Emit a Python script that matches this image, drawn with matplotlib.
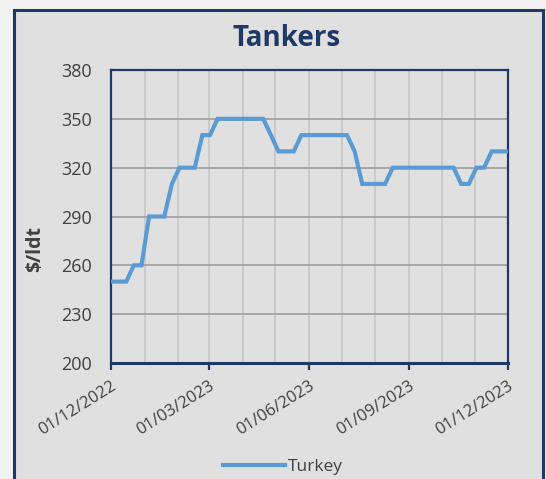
import matplotlib
matplotlib.use("Agg")
import matplotlib.pyplot as plt
import matplotlib.dates as mdates
from matplotlib.patches import Rectangle
import pandas as pd

# ---- data ----
start_date = "2022-12-01"
n_weeks = 53
dates = pd.date_range(start_date, periods=n_weeks, freq="7D")
turkey = [250, 250, 250, 260, 260, 290, 290, 290, 310, 320, 320, 320,
          340, 340, 350, 350, 350, 350, 350, 350, 350, 340, 330, 330,
          330, 340, 340, 340, 340, 340, 340, 340, 330, 310, 310, 310,
          310, 320, 320, 320, 320, 320, 320, 320, 320, 320, 310, 310,
          320, 320, 330, 330, 330]
tick_dates = ["2022-12-01", "2023-03-01", "2023-06-01", "2023-09-01", "2023-12-01"]
y_ticks = [200, 230, 260, 290, 320, 350, 380]
title = "Tankers"
ylabel = "$/ldt"
series_name = "Turkey"

# ---- style ----
W, H = 546, 479
navy = "#1f3864"
txt = "#404040"
line_c = "#5b9bd5"
plt.rcParams['font.family'] = ['Open Sans', 'DejaVu Sans']

fig = plt.figure(figsize=(W / 100, H / 100), dpi=100)
fig.patch.set_facecolor("#f2f2f2")
box = Rectangle((14 / W, -0.05), (543 - 14) / W, 1 - 10 / H + 0.05,
                transform=fig.transFigure, facecolor="#e0e0e0",
                edgecolor=navy, lw=2.2, zorder=-5)
fig.patches.append(box)

ax = fig.add_axes([111 / W, 1 - 363 / H, (508 - 111) / W, (363 - 70) / H])
ax.set_zorder(5)
ax.set_facecolor("#e0e0e0")
ax.plot(dates, turkey, color=line_c, lw=3.0, solid_joinstyle="miter",
        label=series_name, zorder=3)

ax.set_ylim(200, 380)
ax.set_yticks(y_ticks)
ax.set_xlim(pd.Timestamp(tick_dates[0]), pd.Timestamp(tick_dates[-1]))
ax.set_xticks([pd.Timestamp(d) for d in tick_dates])
ax.xaxis.set_major_formatter(mdates.DateFormatter("%d/%m/%Y"))
ax.xaxis.set_minor_locator(mdates.MonthLocator(bymonthday=1))

ax.grid(axis="y", which="major", color="#a6a6a6", lw=1.4, zorder=1)
ax.grid(axis="x", which="minor", color="#cacaca", lw=1.4, zorder=1)
ax.grid(axis="x", which="major", color="#cacaca", lw=1.4, zorder=1)
ax.set_axisbelow(True)

for s in ax.spines.values():
    s.set_color(navy)
    s.set_linewidth(1.6)
ax.spines["bottom"].set_linewidth(2.2)

ax.tick_params(axis="y", length=0, pad=14, labelsize=13, labelcolor=txt)
ax.tick_params(axis="x", which="major", length=5, width=1.6, color=navy,
               direction="out", pad=6, labelsize=12, labelcolor=txt)
ax.tick_params(axis="x", which="minor", length=0)
for lab in ax.get_xticklabels():
    lab.set_rotation(32)
    lab.set_ha("right")
    lab.set_rotation_mode("anchor")

fig.text(35 / W, 1 - 249 / H, ylabel, rotation=90, ha="center", va="center",
         fontsize=14, fontweight="bold", color=txt)
fig.text(287 / W, 1 - 39 / H, title, ha="center", va="center",
         fontsize=20, fontweight="bold", color=navy)

fig.legend(loc="center", bbox_to_anchor=(283 / W, 1 - 467 / H), frameon=False,
           fontsize=12.5, labelcolor=txt, handlelength=3.6, handletextpad=0.15)

fig.savefig("out.png", dpi=100, facecolor=fig.get_facecolor())
